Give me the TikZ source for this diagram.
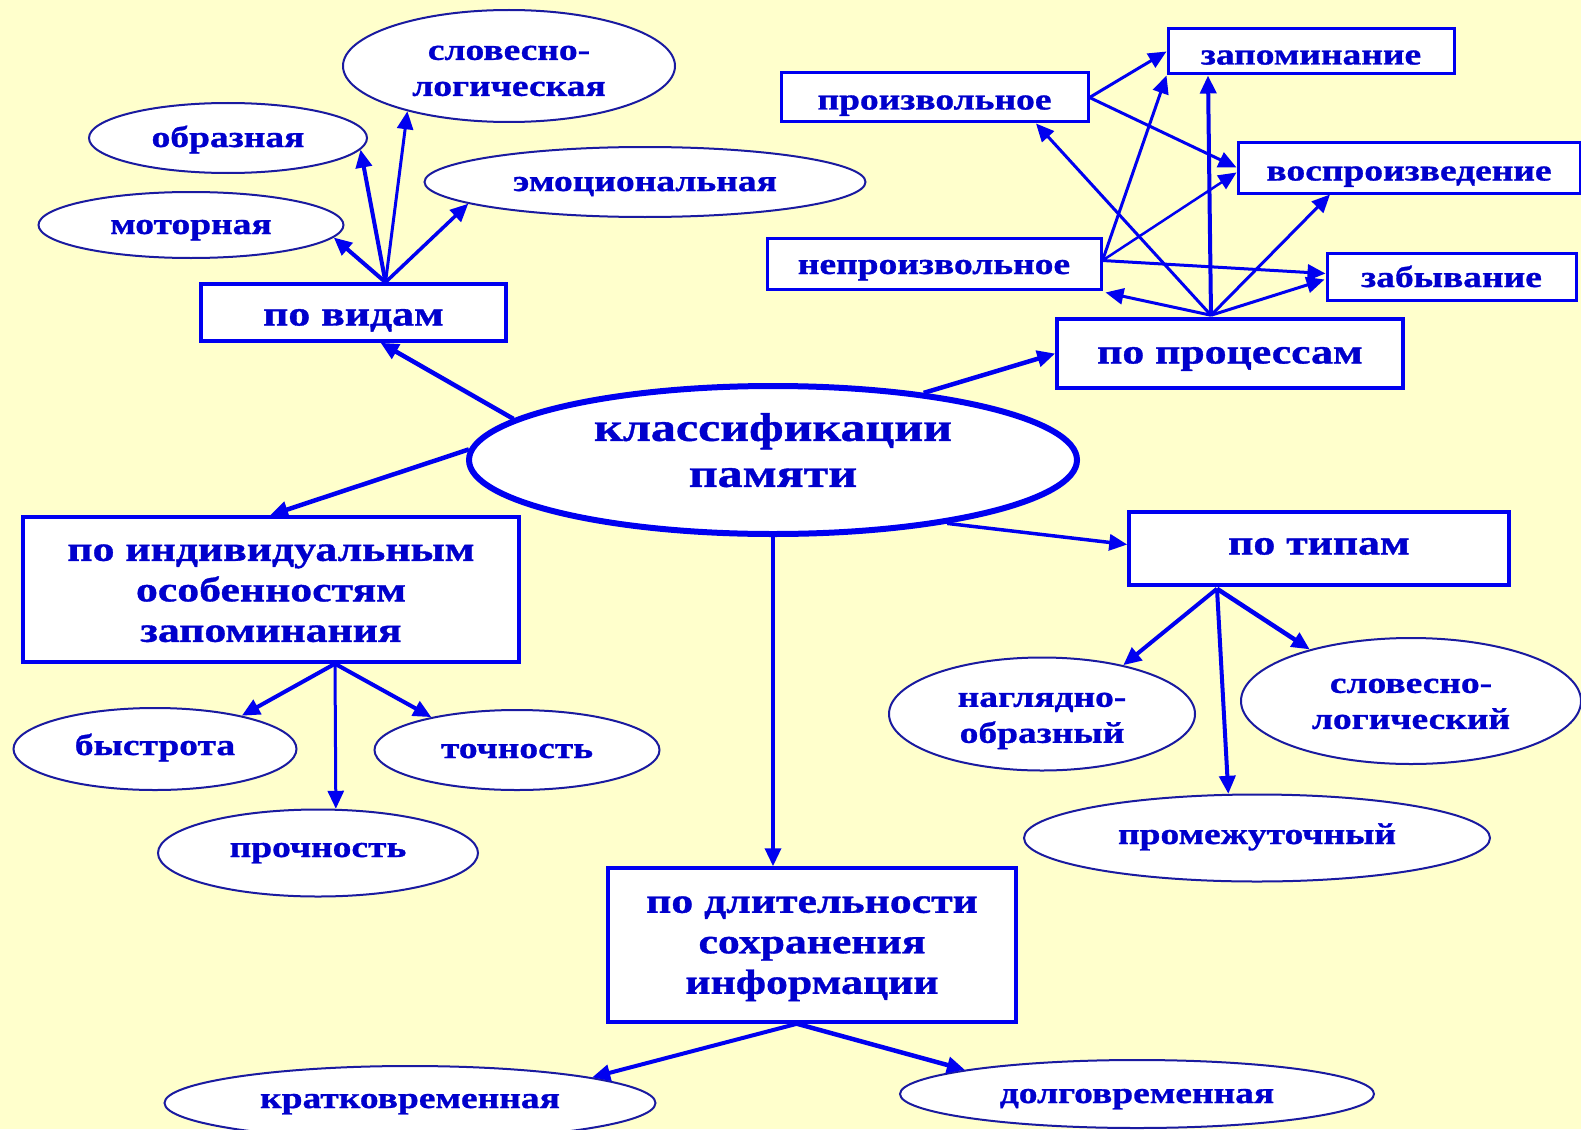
\documentclass[tikz,border=0pt]{standalone}
\usepackage{fontspec}
\newfontfamily\lbl{Liberation Serif}[FakeStretch=1.25, FakeBold=1]
\usetikzlibrary{arrows.meta,calc,shapes.geometric}
\definecolor{bg}{HTML}{FFFFCC}
\definecolor{ln}{HTML}{0000F0}
\definecolor{tx}{HTML}{0000CC}
\definecolor{el}{HTML}{1A1AA0}
\tikzset{
  lab/.style={text=tx, font=\lbl\bfseries\fontsize{30pt}{36pt}\selectfont, align=center, inner sep=0pt},
  oval/.style={lab, ellipse, draw=el, line width=2pt, fill=white},
  bx/.style={lab, rectangle, draw=ln, line width=3pt, fill=white},
  bigbx/.style={bx, font=\lbl\bfseries\fontsize{35pt}{40.5pt}\selectfont, line width=3.5pt},
  tc/.style={text height=#1, text depth=0pt},
  con/.style={draw=ln, line width=4pt, -{Triangle[length=18pt,width=16pt]}},
  pcon/.style={con, line width=3pt},
}
\newcommand\tup[1]{\rule{0pt}{#1}}
\newcommand\tdn[1]{\rule[-#1]{0pt}{#1}}
\begin{document}
\begin{tikzpicture}[x=1pt,y=-1pt]
\fill[bg] (0,0) rectangle (1581,1129);
\useasboundingbox (0,0) rectangle (1581,1129);

% central
\node[ellipse, draw=ln, line width=6pt, fill=white, minimum width=608pt, minimum height=148pt,
      text=tx, align=center, inner sep=0pt, font=\lbl\bfseries\fontsize{40pt}{46pt}\selectfont]
      (cen) at (773,460) {классификации\\памяти\tdn{20pt}};

% по видам
\node[bigbx, tc=26pt, minimum width=305pt, minimum height=57pt] (vid) at (353.5,312.5) {по видам};
\node[oval, minimum width=332pt, minimum height=112pt] (slov) at (509,66) {\tup{24pt}словесно-\\логическая};
\node[oval, tc=18pt, minimum width=278pt, minimum height=70pt] (obr) at (228,138) {образная};
\node[oval, tc=18pt, minimum width=441pt, minimum height=70pt] (emo) at (645,182) {эмоциональная};
\node[oval, tc=18pt, minimum width=305pt, minimum height=66pt] (mot) at (191,225) {моторная};

% по процессам
\node[bx, tc=26pt, minimum width=286pt, minimum height=45pt] (zap) at (1311,51.5) {запоминание};
\node[bx, tc=24pt, minimum width=307pt, minimum height=49pt] (proiz) at (934.5,97.5) {произвольное};
\node[bx, tc=26pt, minimum width=342pt, minimum height=51pt] (vospr) at (1409,167.5) {воспроизведение};
\node[bx, tc=21pt, minimum width=334pt, minimum height=51pt] (neproiz) at (934,263.5) {непроизвольное};
\node[bx, tc=21pt, minimum width=249pt, minimum height=47pt] (zab) at (1451.5,276.5) {забывание};
\node[bigbx, tc=20pt, minimum width=346pt, minimum height=69pt] (proc) at (1230,353.5) {по процессам};

% по индивидуальным
\node[bigbx, minimum width=496pt, minimum height=145pt] (ind) at (271,589.5) {\tup{24pt}по индивидуальным\\особенностям\\запоминания};
\node[oval, tc=12pt, minimum width=283pt, minimum height=82pt] (bys) at (155,749) {быстрота};
\node[oval, tc=16pt, minimum width=285pt, minimum height=80pt] (toch) at (517,750) {точность};
\node[oval, tc=8pt, minimum width=320pt, minimum height=87pt] (proch) at (318,853) {прочность};

% по длительности
\node[bigbx, minimum width=408pt, minimum height=154pt] (dl) at (812,945) {\tup{24pt}по длительности\\сохранения\\информации};
\node[oval, tc=10pt, minimum width=491pt, minimum height=74pt] (krat) at (410,1103) {кратковременная};
\node[oval, tc=18pt, minimum width=474pt, minimum height=68pt] (dolg) at (1137,1094) {долговременная};

% по типам
\node[bigbx, tc=12pt, minimum width=380pt, minimum height=73pt] (tip) at (1319,548.5) {по типам};
\node[oval, minimum width=306pt, minimum height=113pt] (nag) at (1042,714) {\tup{28pt}наглядно-\\образный};
\node[oval, minimum width=340pt, minimum height=126pt] (slg) at (1411,701) {\tup{20pt}словесно-\\логический};
\node[oval, tc=12pt, minimum width=466pt, minimum height=87pt] (prom) at (1257,838) {промежуточный};

% junction points
\coordinate (pv) at ($(vid.north)+(32,0)$);
\coordinate (pp) at ($(proc.north)+(-19,-2)$);
\coordinate (np) at ($(neproiz.east)+(0,-3)$);
\coordinate (pi) at ($(ind.south)+(64,0)$);
\coordinate (pd) at ($(dl.south)+(-15,0)$);
\coordinate (pt) at ($(tip.south)+(-102,2)$);

% central connectors
\draw[con, line width=4.5pt] (cen.171) -- ($(vid.south)+(27,0)$);
\draw[con, line width=4.5pt] (cen.24) -- (proc.west);
\draw[con, line width=4.5pt] (cen.178) -- ($(ind.north)+(-1,0)$);
\draw[con, line width=3.5pt] (cen.south) -- (cen.south |- dl.north);
\draw[con, line width=3.5pt] (cen.-20) -- ($(tip.west)+(0,-4)$);

% по видам children
\draw[con] (pv) -- (mot.-5);
\draw[con] (pv) -- (obr.-5);
\draw[con, line width=3pt] (pv) -- (slov.204);
\draw[con, line width=3.5pt] (pv) -- (emo.187);

% process cluster
\draw[pcon] (proiz.east) -- (zap.west);
\draw[pcon] (proiz.east) -- (vospr.west);
\draw[pcon] (np) -- (zap.south west);
\draw[pcon, line width=2.5pt] (np) -- ($(vospr.west)+(0,5)$);
\draw[pcon] (np) -- ($(zab.west)+(0,-3)$);
\draw[pcon] (pp) -- ($(proiz.south)+(101.5,0)$);
\draw[pcon, line width=4pt] (pp) -- ($(zap.south)+(-103,0)$);
\draw[pcon] (pp) -- ($(vospr.south)+(-79,0)$);
\draw[pcon] (pp) -- ($(zab.west)+(-1,3)$);
\draw[pcon] (pp) -- ($(neproiz.south east)+(3,2)$);

% ind children
\draw[con] (pi) -- (bys.21);
\draw[con] (pi) -- (toch.159);
\draw[con, line width=3pt] (pi) -- (proch.68);

% dl children
\draw[con] (pd) -- (krat.8);
\draw[con, line width=4.5pt] (pd) -- (dolg.172);

% tip children
\draw[con] (pt) -- (nag.31);
\draw[con, line width=4.5pt] (pt) -- (slg.153);
\draw[con] (pt) -- (prom.123);
\end{tikzpicture}
\end{document}
